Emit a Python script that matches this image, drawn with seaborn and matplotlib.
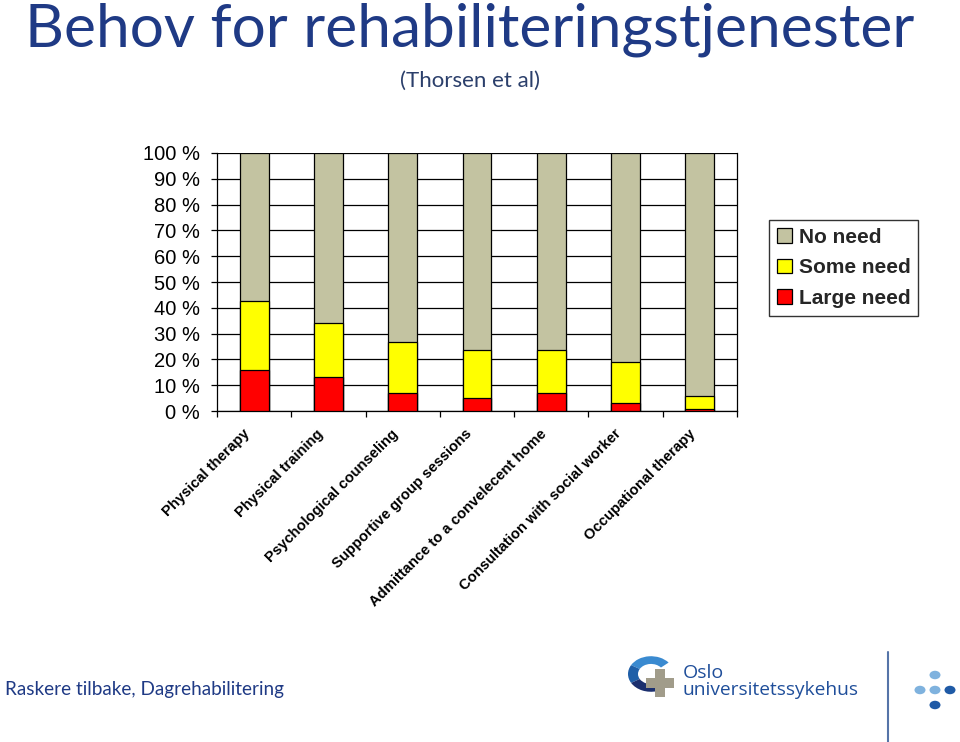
import matplotlib
matplotlib.use("Agg")
import matplotlib.pyplot as plt
import matplotlib.patches as mpatches
from matplotlib.lines import Line2D
import seaborn as sns
import pandas as pd
import numpy as np

categories = ["Physical therapy", "Physical training", "Psychological counseling",
              "Supportive group sessions", "Admittance to a convelecent home",
              "Consultation with social worker", "Occupational therapy"]
large_need = [15.9, 13.1, 7.1, 5.0, 7.1, 3.0, 0.9]
some_need = [26.9, 20.9, 19.8, 18.8, 16.7, 15.9, 4.8]
no_need = [100 - a - b for a, b in zip(large_need, some_need)]
series_names = ["No need", "Some need", "Large need"]
y_ticks = list(range(0, 101, 10))

colors = {"No need": "#C3C3A1", "Some need": "#FFFF00", "Large need": "#FF0000"}
dark_blue = "#1F3A85"

sns.set_theme(style="white")
plt.rcParams['font.family'] = ['Liberation Sans', 'DejaVu Sans']

W, H = 960, 742
fig = plt.figure(figsize=(W / 100, H / 100), dpi=100)

def fx(x):
    return x / W

def fy(y):
    return 1 - y / H

ax = fig.add_axes([fx(217), fy(411), fx(737) - fx(217), fy(153) - fy(411)])

df = pd.DataFrame({"cat": categories,
                   "total": [a + b + c for a, b, c in zip(large_need, some_need, no_need)],
                   "some_cum": [a + b for a, b in zip(large_need, some_need)],
                   "large": large_need})

for col, name in [("total", "No need"), ("some_cum", "Some need"), ("large", "Large need")]:
    sns.barplot(data=df, x="cat", y=col, color=colors[name], saturation=1,
                width=0.39, edgecolor="black", linewidth=0.9, ax=ax, zorder=3)

ax.set_ylim(0, 100)
ax.set_xlim(-0.5, len(categories) - 0.5)
ax.set_yticks(y_ticks)
ax.set_yticklabels([f"{t} %" for t in y_ticks], fontsize=14.5, color="black")
for t in y_ticks:
    ax.axhline(t, color="black", linewidth=0.9, zorder=1)
ax.set_xlabel("")
ax.set_ylabel("")
ax.set_xticks(np.arange(-0.5, len(categories), 1.0))
ax.set_xticklabels([])
ax.tick_params(axis="x", direction="out", length=4, width=0.9, color="black", bottom=True)
ax.tick_params(axis="y", direction="out", length=4.3, width=0.9, color="black", left=True, pad=8)
for s in ax.spines.values():
    s.set_visible(True)
    s.set_color("black")
    s.set_linewidth(0.9)
ax.spines["top"].set_visible(False)

# rotated category labels
for i, c in enumerate(categories):
    ax.annotate(c, xy=(i, 0), xycoords=("data", "data"), xytext=(-5, -15),
                textcoords="offset points", rotation=45, rotation_mode="anchor",
                ha="right", va="center", fontsize=10.6, fontweight="bold", color="black")

# legend
handles = [mpatches.Patch(facecolor=colors[n], edgecolor="black", linewidth=0.9, label=n)
           for n in series_names]
leg = fig.legend(handles=handles, loc="upper left", bbox_to_anchor=(fx(769), fy(220)),
                 frameon=True, fancybox=False, edgecolor="black",
                 prop={"size": 15, "weight": "bold", "family": "Liberation Sans"},
                 handlelength=0.7, handleheight=0.7, handletextpad=0.35,
                 labelspacing=0.55, borderpad=0.38, borderaxespad=0)
leg.get_frame().set_linewidth(1.0)

# title texts
fig.text(fx(470), fy(30), "Behov for rehabiliteringstjenester", ha="center", va="center",
         fontsize=43.5, color=dark_blue, family=["Lato", "DejaVu Sans"])
fig.text(fx(470), fy(81), "(Thorsen et al)", ha="center", va="center",
         fontsize=16, color="#2B3F6B", family=["Lato", "DejaVu Sans"])
fig.text(fx(5), fy(689), "Raskere tilbake, Dagrehabilitering", ha="left", va="center",
         fontsize=13.6, color=dark_blue, family=["Lato", "DejaVu Sans"])

# logo
logo_blue = "#1F4E9A"
cx0, cy0 = fx(651), fy(674)
r = 23 / W
fig.add_artist(mpatches.Wedge((cx0, cy0), r, 40, 150, width=10 / W, transform=fig.transFigure,
                              facecolor="#3A8AD0", edgecolor="none"))
fig.add_artist(mpatches.Wedge((cx0, cy0), r, 150, 210, width=10 / W, transform=fig.transFigure,
                              facecolor="#1F5FA8", edgecolor="none"))
fig.add_artist(mpatches.Wedge((cx0, cy0), r, 210, 285, width=10 / W, transform=fig.transFigure,
                              facecolor="#1B2F6E", edgecolor="none"))
for (cxp, cyp, w, h) in [(660, 683, 10, 28), (660, 683, 28, 10)]:
    fig.add_artist(mpatches.Rectangle((fx(cxp - w / 2), fy(cyp + h / 2)), w / W, h / H,
                                      transform=fig.transFigure, facecolor="#A19C8A",
                                      edgecolor="none"))
fig.text(fx(683), fy(673), "Oslo", ha="left", va="center", fontsize=14,
         color=logo_blue, family=["Open Sans", "DejaVu Sans"])
fig.text(fx(682), fy(690), "universitetssykehus", ha="left", va="center", fontsize=13.8,
         color=logo_blue, family=["Open Sans", "DejaVu Sans"])
fig.add_artist(Line2D([fx(888), fx(888)], [fy(652), fy(742)], transform=fig.transFigure,
                      color="#5574A8", linewidth=1.5))
for (cxd, cyd, col) in [(935, 675, "#7FB2DE"), (920, 690, "#7FB2DE"), (935, 690, "#7FB2DE"),
                        (950, 690, "#1F5AA6"), (935, 705, "#1F5AA6")]:
    fig.add_artist(mpatches.Circle((fx(cxd), fy(cyd)), 5.5 / W, transform=fig.transFigure,
                                   facecolor=col, edgecolor="none"))

fig.savefig("out.png", dpi=100)
